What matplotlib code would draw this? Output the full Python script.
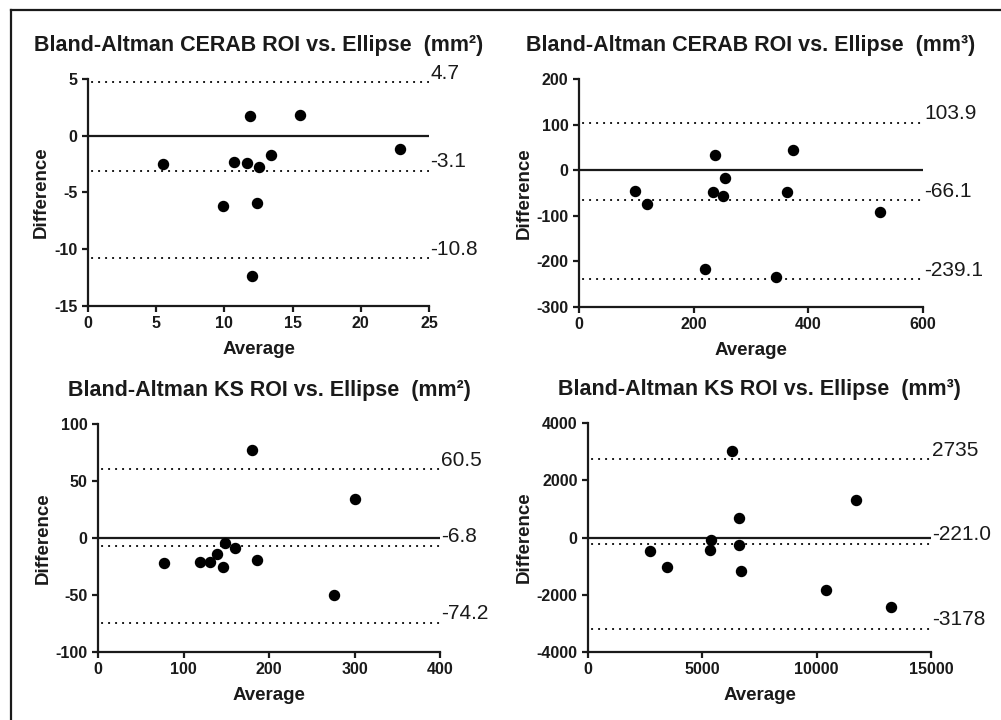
import matplotlib
matplotlib.use("Agg")
import matplotlib.pyplot as plt
from matplotlib.lines import Line2D

plt.rcParams['font.family'] = ['Liberation Sans', 'DejaVu Sans']
plt.rcParams['axes.unicode_minus'] = False

# ---------------- data ----------------
titles = [
    "Bland-Altman CERAB ROI vs. Ellipse  (mm\u00b2)",
    "Bland-Altman CERAB ROI vs. Ellipse  (mm\u00b3)",
    "Bland-Altman KS ROI vs. Ellipse  (mm\u00b2)",
    "Bland-Altman KS ROI vs. Ellipse  (mm\u00b3)",
]

cerab_area_avg = [11.85, 15.56, 22.85, 5.49, 10.68, 11.66, 12.54, 13.44, 9.90, 12.39, 12.05]
cerab_area_diff = [1.71, 1.83, -1.15, -2.50, -2.33, -2.39, -2.74, -1.74, -6.19, -5.92, -12.40]
cerab_area_bias = -3.1
cerab_area_loa = [4.7, -10.8]
cerab_area_labels = ["4.7", "-3.1", "-10.8"]

cerab_vol_avg = [97.9, 118.8, 237.1, 233.0, 254.0, 251.0, 362.3, 373.4, 525.4, 219.6, 343.7]
cerab_vol_diff = [-46.1, -74.7, 33.7, -48.3, -16.1, -55.6, -48.3, 43.2, -90.8, -216.0, -234.3]
cerab_vol_bias = -66.1
cerab_vol_loa = [103.9, -239.1]
cerab_vol_labels = ["103.9", "-66.1", "-239.1"]

ks_area_avg = [179.9, 301.1, 77.1, 119.6, 130.5, 139.4, 148.4, 145.7, 160.5, 185.4, 276.5]
ks_area_diff = [77.5, 34.3, -22.3, -20.9, -20.9, -14.2, -4.8, -25.0, -8.6, -19.7, -49.8]
ks_area_bias = -6.8
ks_area_loa = [60.5, -74.2]
ks_area_labels = ["60.5", "-6.8", "-74.2"]

ks_vol_avg = [6318, 11717, 6625, 5370, 2714, 5341, 6610, 3473, 6669, 10419, 13264]
ks_vol_diff = [3019, 1314, 695, -76, -461, -426, -251, -1022, -1185, -1816, -2412]
ks_vol_bias = -221.0
ks_vol_loa = [2735, -3178]
ks_vol_labels = ["2735", "-221.0", "-3178"]

xlims = [(0, 25), (0, 600), (0, 400), (0, 15000)]
ylims = [(-15, 5), (-300, 200), (-100, 100), (-4000, 4000)]
xticks = [[0, 5, 10, 15, 20, 25], [0, 200, 400, 600], [0, 100, 200, 300, 400], [0, 5000, 10000, 15000]]
yticks = [[-15, -10, -5, 0, 5], [-300, -200, -100, 0, 100, 200], [-100, -50, 0, 50, 100],
          [-4000, -2000, 0, 2000, 4000]]

panels = [
    (cerab_area_avg, cerab_area_diff, cerab_area_bias, cerab_area_loa, cerab_area_labels),
    (cerab_vol_avg, cerab_vol_diff, cerab_vol_bias, cerab_vol_loa, cerab_vol_labels),
    (ks_area_avg, ks_area_diff, ks_area_bias, ks_area_loa, ks_area_labels),
    (ks_vol_avg, ks_vol_diff, ks_vol_bias, ks_vol_loa, ks_vol_labels),
]

positions = [
    [0.0879, 0.575, 0.3407, 0.3153],
    [0.5784, 0.5736, 0.3437, 0.3167],
    [0.0979, 0.0944, 0.3417, 0.3167],
    [0.5874, 0.0944, 0.3427, 0.318],
]

fig = plt.figure(figsize=(10.01, 7.2), dpi=100)
fig.patch.set_facecolor('white')

# frame lines (left and top)
fig.add_artist(Line2D([0.0105, 0.0105], [0, 0.986], transform=fig.transFigure, color='#1a1a1a', lw=1.6))
fig.add_artist(Line2D([0.0105, 1.0], [0.986, 0.986], transform=fig.transFigure, color='#1a1a1a', lw=1.6))

for i, (avg, diff, bias, loa, labels) in enumerate(panels):
    ax = fig.add_axes(positions[i])
    x0, x1 = xlims[i]
    ax.set_xlim(x0, x1)
    ax.set_ylim(*ylims[i])
    ax.set_xticks(xticks[i])
    ax.set_yticks(yticks[i])
    for s in ['top', 'right']:
        ax.spines[s].set_visible(False)
    for s in ['left', 'bottom']:
        ax.spines[s].set_linewidth(1.6)
        ax.spines[s].set_color('#1a1a1a')
    ax.tick_params(axis='both', direction='out', length=4.5, width=1.6, pad=3,
                   labelsize=11.5, colors='#1a1a1a')
    for lab in ax.get_xticklabels() + ax.get_yticklabels():
        lab.set_fontweight('bold')

    # zero line
    ax.plot([x0, x1], [0, 0], color='#1a1a1a', lw=1.6, solid_capstyle='butt', clip_on=False)
    # bias and limits of agreement
    lines_y = [loa[0], bias, loa[1]]
    for yv, txt in zip(lines_y, labels):
        ax.plot([x0, x1], [yv, yv], color='#1a1a1a', lw=1.4, linestyle=(2, (1, 2.6)),
                clip_on=False)
        ax.annotate(txt, xy=(x1, yv), xytext=(1, 2.5), textcoords='offset points',
                    ha='left', va='baseline', fontsize=15, color='#1a1a1a',
                    annotation_clip=False)

    ax.scatter(avg, diff, s=52, color='black', zorder=5, clip_on=False)

    ax.set_title(titles[i], fontsize=15.5, fontweight='bold', pad=20, color='#1a1a1a')
    ax.set_xlabel('Average', fontsize=13.5, fontweight='bold', labelpad=7, color='#1a1a1a')
    ax.set_ylabel('Difference', fontsize=13.5, fontweight='bold', labelpad=3, color='#1a1a1a')

fig.savefig('out.png', dpi=100, facecolor='white')
